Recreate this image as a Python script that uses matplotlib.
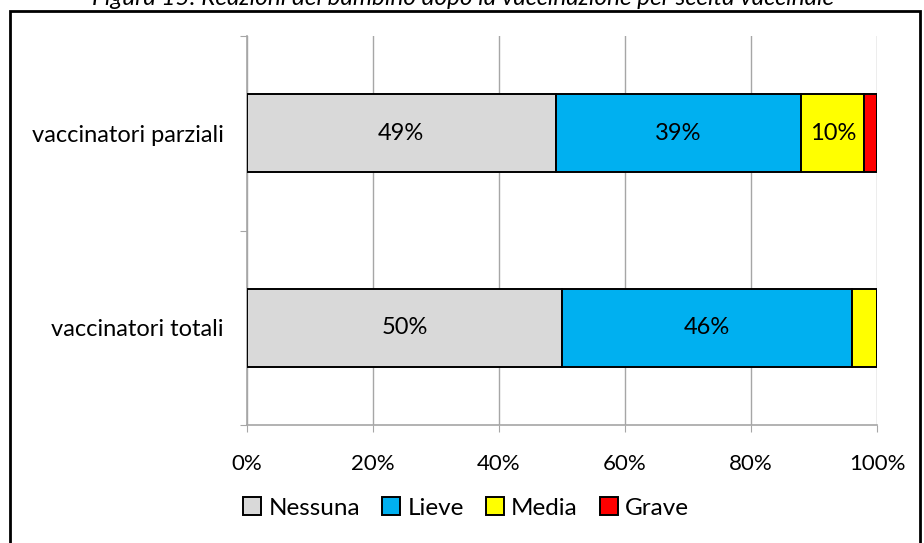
import matplotlib.pyplot as plt
from matplotlib.patches import Rectangle

# data
gruppi = ["vaccinatori totali", "vaccinatori parziali"]
reazioni = ["Nessuna", "Lieve", "Media", "Grave"]
nessuna = [50, 49]
lieve = [46, 39]
media = [4, 10]
grave = [0, 2]
colori = ["#D9D9D9", "#00B0F0", "#FFFF00", "#FF0000"]
tick_pct = [0, 20, 40, 60, 80, 100]

plt.rcParams['font.family'] = ['Lato', 'DejaVu Sans']

fig = plt.figure(figsize=(9.24, 5.43), dpi=100)
ax = fig.add_axes([247 / 924, 1 - 425 / 543, 630 / 924, 389 / 543])

serie = [nessuna, lieve, media, grave]
left = [0, 0]
for nome, vals, col in zip(reazioni, serie, colori):
    bars = ax.barh(range(len(gruppi)), vals, left=left, height=0.4,
                   color=col, edgecolor="black", linewidth=1.4, label=nome, zorder=3)
    for b, v in zip(bars, vals):
        if v >= 5:
            ax.text(b.get_x() + b.get_width() / 2, b.get_y() + b.get_height() / 2,
                    f"{v}%", ha="center", va="center", fontsize=17, zorder=4)
    left = [l + v for l, v in zip(left, vals)]

ax.set_xlim(0, 100)
ax.set_ylim(-0.5, 1.5)
ax.set_xticks(tick_pct)
ax.set_xticklabels([f"{t}%" for t in tick_pct], fontsize=16)
ax.tick_params(axis="x", length=5, color="#a6a6a6", pad=16)

ax.set_yticks([-0.5, 0.5, 1.5])
ax.set_yticklabels([])
ax.set_yticks([0, 1], minor=True)
ax.set_yticklabels(gruppi, minor=True, fontsize=17)
ax.tick_params(axis="y", which="major", length=5, color="#a6a6a6", direction="out")
ax.tick_params(axis="y", which="minor", length=0, pad=17)

ax.xaxis.grid(True, color="#a6a6a6", linewidth=1, zorder=0)
ax.set_axisbelow(True)
for s in ["top", "right"]:
    ax.spines[s].set_visible(False)
for s in ["left", "bottom"]:
    ax.spines[s].set_color("#a6a6a6")
    ax.spines[s].set_linewidth(1.2)

fig.legend(loc="center", bbox_to_anchor=(466 / 924, 1 - 508 / 543), ncol=4,
           frameon=False, fontsize=17.5, handlelength=0.75, handleheight=0.75,
           handletextpad=0.3, columnspacing=0.9, borderaxespad=0)

fig.text(463 / 924, 1 - 5 / 543,
         "Figura 15: Reazioni del bambino dopo la vaccinazione per scelta vaccinale",
         ha="center", va="baseline", fontsize=17.5, style="italic")

# cornice
fig.patches.append(Rectangle((10 / 924, -0.05), 910 / 924, 1.05 - 11 / 543,
                             transform=fig.transFigure, fill=False,
                             edgecolor="black", linewidth=2))

fig.savefig("out.png", dpi=100)
